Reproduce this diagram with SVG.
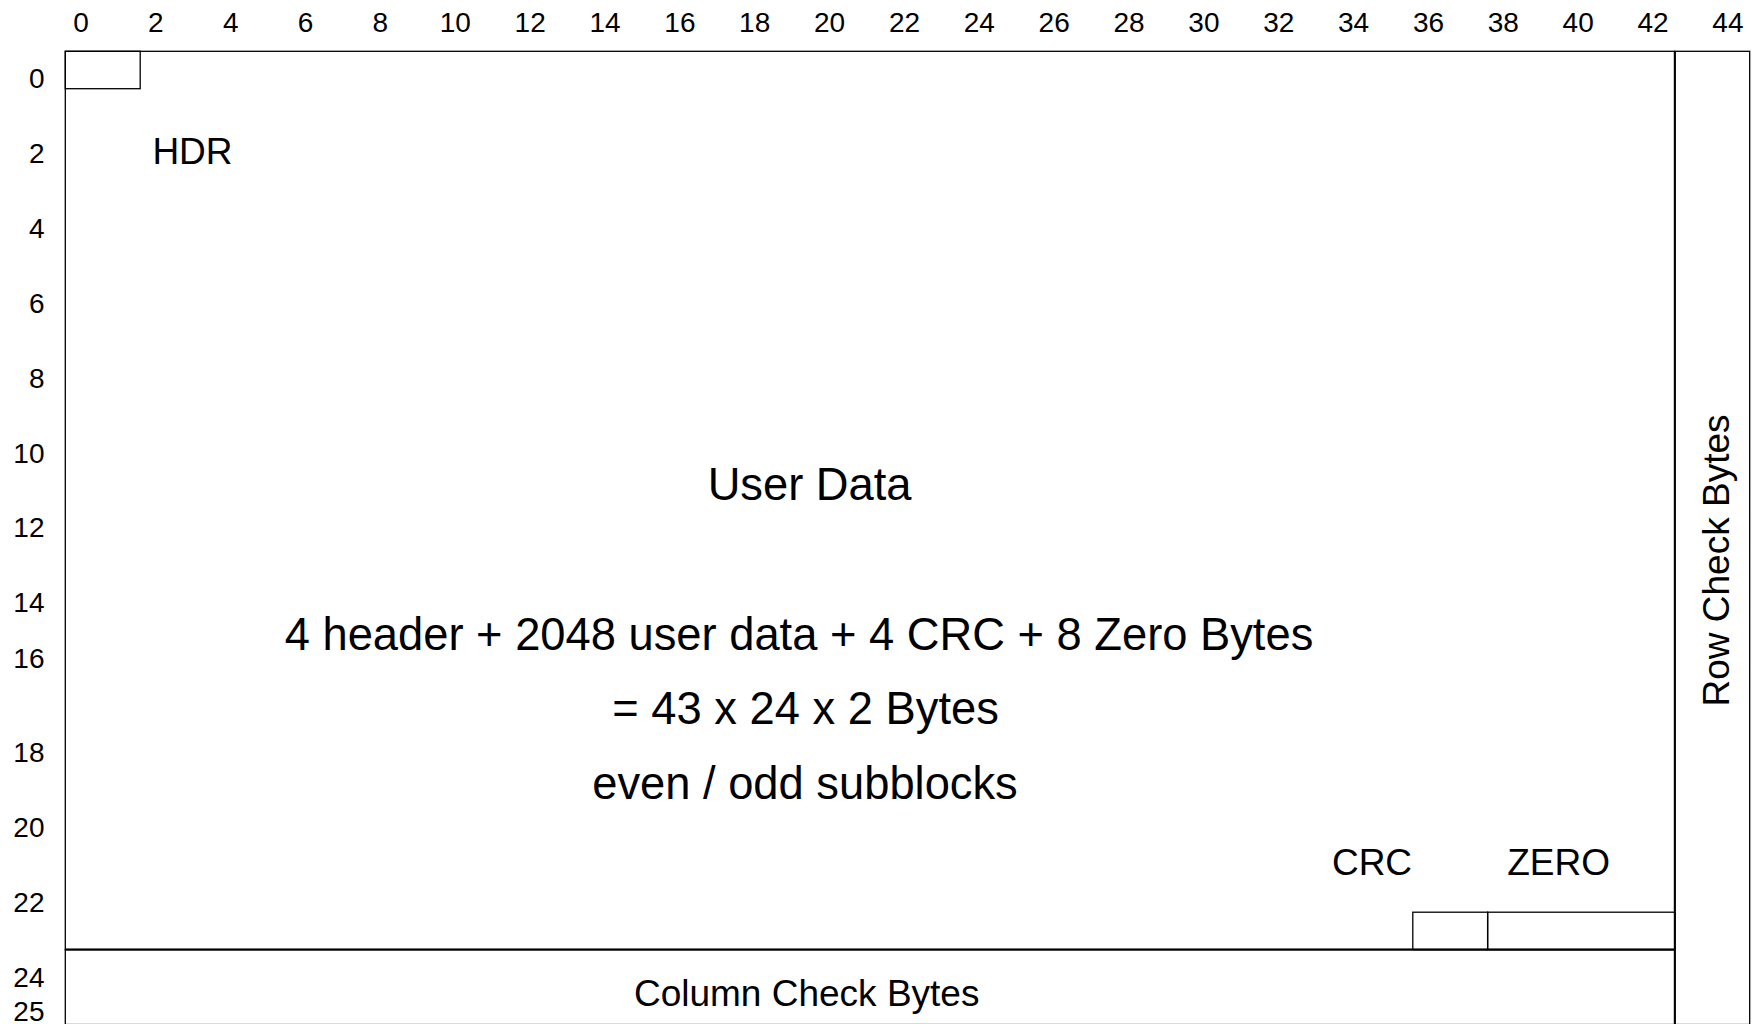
<svg xmlns="http://www.w3.org/2000/svg" width="1757" height="1024" viewBox="0 0 1757 1024">
  <style>
    text { font-family: "Liberation Sans", Arial, sans-serif; fill: #000; }
    .tick { font-size: 28px; }
    .col { text-anchor: middle; }
    .row { text-anchor: end; }
    .lbl { font-size: 37px; }
    .big { font-size: 45.3px; text-anchor: middle; }
    .thin { fill: none; stroke: #000; stroke-width: 1.3; }
    .bold { fill: none; stroke: #000; stroke-width: 2; }
  </style>
  <rect width="1757" height="1024" fill="#fff"/>

  <!-- column scale (bytes) -->
  <g id="col-scale" class="tick col">
    <text x="81.0" y="32">0</text>
    <text x="155.9" y="32">2</text>
    <text x="230.7" y="32">4</text>
    <text x="305.6" y="32">6</text>
    <text x="380.4" y="32">8</text>
    <text x="455.3" y="32">10</text>
    <text x="530.2" y="32">12</text>
    <text x="605.0" y="32">14</text>
    <text x="679.9" y="32">16</text>
    <text x="754.7" y="32">18</text>
    <text x="829.6" y="32">20</text>
    <text x="904.5" y="32">22</text>
    <text x="979.3" y="32">24</text>
    <text x="1054.2" y="32">26</text>
    <text x="1129.0" y="32">28</text>
    <text x="1203.9" y="32">30</text>
    <text x="1278.8" y="32">32</text>
    <text x="1353.6" y="32">34</text>
    <text x="1428.5" y="32">36</text>
    <text x="1503.3" y="32">38</text>
    <text x="1578.2" y="32">40</text>
    <text x="1653.1" y="32">42</text>
    <text x="1727.9" y="32">44</text>
  </g>

  <!-- row scale -->
  <g id="row-scale" class="tick row">
    <text x="44.5" y="88.2">0</text>
    <text x="44.5" y="163.1">2</text>
    <text x="44.5" y="237.9">4</text>
    <text x="44.5" y="312.8">6</text>
    <text x="44.5" y="387.6">8</text>
    <text x="44.5" y="462.5">10</text>
    <text x="44.5" y="537.4">12</text>
    <text x="44.5" y="612.2">14</text>
    <text x="44.5" y="668">16</text>
    <text x="44.5" y="761.9">18</text>
    <text x="44.5" y="836.8">20</text>
    <text x="44.5" y="911.7">22</text>
    <text x="44.5" y="986.5">24</text>
    <text x="44.5" y="1021">25</text>
  </g>

  <!-- user data block -->
  <g id="user-data">
    <rect class="thin" x="65.3" y="51.3" width="1609.5" height="898.3"/>
    <text class="big" x="809.6" y="500">User Data</text>
    <text class="big" x="799" y="649.5">4 header + 2048 user data + 4 CRC + 8 Zero Bytes</text>
    <text class="big" x="805.6" y="724">= 43 x 24 x 2 Bytes</text>
    <text class="big" x="805" y="798.5">even / odd subblocks</text>
  </g>

  <!-- header bytes -->
  <g id="hdr">
    <rect class="thin" x="65.3" y="51.3" width="74.9" height="37.4"/>
    <text class="lbl" x="152.4" y="163.6">HDR</text>
  </g>

  <!-- CRC bytes -->
  <g id="crc">
    <rect class="thin" x="1412.8" y="912.2" width="74.9" height="37.4"/>
    <text class="lbl" x="1372" y="874.8" text-anchor="middle">CRC</text>
  </g>

  <!-- zero padding bytes -->
  <g id="zero">
    <rect class="thin" x="1487.6" y="912.2" width="187.2" height="37.4"/>
    <text class="lbl" x="1558.6" y="874.8" text-anchor="middle">ZERO</text>
  </g>

  <!-- row check bytes -->
  <g id="row-check">
    <rect class="thin" x="1674.8" y="51.3" width="74.9" height="973.2"/>
    <line class="bold" x1="1674.8" y1="51.3" x2="1674.8" y2="1024.5"/>
    <text class="lbl" transform="translate(1729 560.5) rotate(-90)" text-anchor="middle">Row Check Bytes</text>
  </g>

  <!-- column check bytes -->
  <g id="column-check">
    <rect class="thin" x="65.3" y="949.6" width="1609.5" height="74.9"/>
    <line class="bold" x1="65.3" y1="949.6" x2="1674.8" y2="949.6"/>
    <text class="lbl" x="806.7" y="1006" text-anchor="middle">Column Check Bytes</text>
  </g>

  <g id="connectors"/>
</svg>
